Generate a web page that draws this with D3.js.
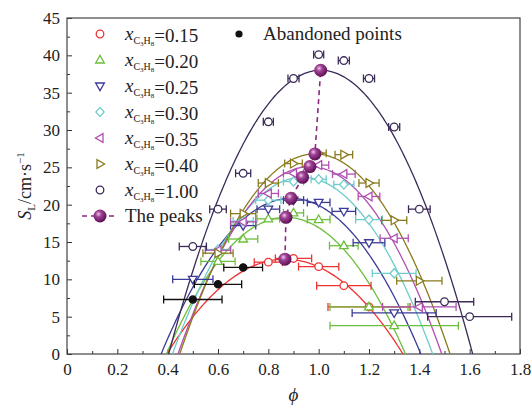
<!DOCTYPE html>
<html><head><meta charset="utf-8">
<script src="https://cdn.jsdelivr.net/npm/d3@7"></script>
<style>body{margin:0;background:#fff}svg{display:block}</style>
</head><body>
<script>
// ---- data ----
const seriesNames = ["0.15","0.20","0.25","0.30","0.35","0.40","1.00"];
const seriesColors = ["#ee3333","#6cbf3a","#3b3b98","#6ecccb","#b14fb1","#8a7b1f","#3c2b58"];
const seriesShapes = ["circle","up","down","diamond","left","right","circle"];

const phi015 = [0.8,0.9,1.0,1.1,1.2];
const s015   = [12.3,12.8,11.7,9.15,6.3];
const e015   = [0.056,0.072,0.08,0.108,0.163];

const phi020 = [0.6,0.7,0.8,0.9,1.0,1.1,1.2,1.3];
const s020   = [12.4,15.4,18.1,18.9,18.0,14.5,6.3,3.8];
const e020   = [0.068,0.058,0.045,0.04,0.045,0.057,0.155,0.255];

const phi025 = [0.5,0.7,0.8,0.9,1.0,1.1,1.2,1.3];
const s025   = [10.0,17.2,19.4,20.6,20.3,19.1,14.9,5.5];
const e025   = [0.08,0.05,0.045,0.04,0.045,0.047,0.063,0.167];

const phi030 = [0.6,0.7,0.8,0.9,1.0,1.1,1.2,1.3];
const s030   = [14.0,17.8,20.6,23.1,23.4,22.7,18.0,10.8];
const e030   = [0.05,0.04,0.05,0.04,0.03,0.04,0.053,0.087];

const phi035 = [0.6,0.7,0.8,0.9,1.0,1.1,1.2,1.3,1.4];
const s035   = [13.9,17.7,21.5,24.2,25.3,24.1,21.1,15.5,6.3];
const e035   = [0.05,0.05,0.04,0.04,0.04,0.045,0.043,0.056,0.146];

const phi040 = [0.6,0.7,0.8,0.9,1.0,1.1,1.2,1.3,1.4];
const s040   = [13.5,18.8,22.9,25.5,26.9,26.7,22.9,17.9,9.8];
const e040   = [0.06,0.05,0.04,0.035,0.03,0.035,0.04,0.05,0.09];

const phi100 = [0.5,0.6,0.7,0.8,0.9,1.0,1.1,1.2,1.3,1.4,1.5,1.6];
const s100   = [14.4,19.4,24.2,31.1,36.9,40.1,39.3,36.9,30.4,19.4,7.0,5.0];
const e100   = [0.054,0.033,0.03,0.02,0.022,0.02,0.022,0.022,0.022,0.043,0.116,0.167];

const phiAband = [0.5,0.6,0.7];
const sAband   = [7.3,9.33,11.6];
const eAband   = [0.116,0.094,0.077];

// quadratic fits: vertex (peak) and right root
const peakPhi = [0.866,0.87,0.89,0.936,0.965,0.985,1.008];
const peakS   = [12.7,18.3,20.85,23.66,25.1,26.8,38.0];
const rootRight = [1.335,1.345,1.406,1.453,1.489,1.522,1.612];

const xTicks = [0,0.2,0.4,0.6,0.8,1.0,1.2,1.4,1.6,1.8];
const yTicks = [0,5,10,15,20,25,30,35,40,45];

const seriesPhi = [phi015,phi020,phi025,phi030,phi035,phi040,phi100];
const seriesS   = [s015,s020,s025,s030,s035,s040,s100];
const seriesE   = [e015,e020,e025,e030,e035,e040,e100];

// ---- chart ----
const FONT = "'Liberation Serif','Times New Roman','DejaVu Serif',serif";
const W=531,H=407, L=67,R=520,T=18,B=354;
const svg=d3.select("body").append("svg").attr("width",W).attr("height",H);
const x=d3.scaleLinear().domain([0,1.8]).range([L,R]);
const y=d3.scaleLinear().domain([0,45]).range([B,T]);

const defs=svg.append("defs");
const g=defs.append("radialGradient").attr("id","sph").attr("cx","38%").attr("cy","35%").attr("r","65%");
g.append("stop").attr("offset","0%").attr("stop-color","#f0c8ea");
g.append("stop").attr("offset","35%").attr("stop-color","#a04496");
g.append("stop").attr("offset","100%").attr("stop-color","#5e0f55");
defs.append("clipPath").attr("id","clip").append("rect").attr("x",L).attr("y",T).attr("width",R-L).attr("height",B-T);

// axes
const fmtX=d=>d===0?"0":d3.format(".1f")(d);
svg.append("g").attr("transform",`translate(0,${B})`)
  .call(d3.axisBottom(x).tickValues(xTicks).tickFormat(fmtX).tickSize(-5).tickPadding(9));
svg.append("g").attr("transform",`translate(0,${B})`)
  .call(d3.axisBottom(x).tickValues(d3.range(0.1,1.8,0.2)).tickFormat("").tickSize(-3));
svg.append("g").attr("transform",`translate(${L},0)`)
  .call(d3.axisLeft(y).tickValues(yTicks).tickSize(-5).tickPadding(7));
svg.append("g").attr("transform",`translate(${L},0)`)
  .call(d3.axisLeft(y).tickValues(d3.range(2.5,45,5)).tickFormat("").tickSize(-3));
svg.selectAll(".domain").remove();
svg.selectAll("g").attr("font-family",null);
svg.selectAll(".tick line").attr("stroke","#333");
svg.selectAll(".tick text").attr("font-family",FONT).attr("font-size","17px").attr("fill","#222");
svg.append("rect").attr("x",L).attr("y",T).attr("width",R-L).attr("height",B-T).attr("fill","none").attr("stroke","#444").attr("stroke-width",1.2);

function txt(sel){return sel.attr("font-family",FONT).attr("fill","#222");}
// axis titles
txt(svg.append("text")).attr("x",(L+R)/2).attr("y",401).attr("text-anchor","middle")
  .attr("font-size","19px").attr("font-style","italic").text("ϕ");
const yt=txt(svg.append("text")).attr("transform","translate(31,186) rotate(-90)").attr("text-anchor","middle").attr("font-size","18px");
yt.append("tspan").attr("font-style","italic").text("S");
yt.append("tspan").attr("dy",4).attr("font-size","11px").text("L");
yt.append("tspan").attr("dy",-4).text("/cm·s");
yt.append("tspan").attr("dy",-7).attr("font-size","11px").text("−1");

const plot=svg.append("g").attr("clip-path","url(#clip)");

// fitted curves
seriesNames.forEach((n,i)=>{
  const hw=rootRight[i]-peakPhi[i], r1=peakPhi[i]-hw;
  const pts=d3.range(0,201).map(k=>{const p=r1+2*hw*k/200; return [p, peakS[i]*(1-((p-peakPhi[i])/hw)**2)];});
  plot.append("path").attr("d",d3.line().x(d=>x(d[0])).y(d=>y(Math.max(d[1],-1)))(pts))
    .attr("fill","none").attr("stroke",seriesColors[i]).attr("stroke-width",1.3);
});

function markerPath(shape,s){
  switch(shape){
    case "up": return `M0,${-s}L${s*0.95},${s*0.65}L${-s*0.95},${s*0.65}Z`;
    case "down": return `M0,${s}L${s*0.95},${-s*0.65}L${-s*0.95},${-s*0.65}Z`;
    case "left": return `M${-s},0L${s*0.65},${-s*0.95}L${s*0.65},${s*0.95}Z`;
    case "right": return `M${s},0L${-s*0.65},${-s*0.95}L${-s*0.65},${s*0.95}Z`;
    case "diamond": return `M0,${-s}L${s*0.9},0L0,${s}L${-s*0.9},0Z`;
  }
}
function drawPoints(ph,ss,ee,color,shape,filled){
  const gg=plot.append("g");
  ph.forEach((p,j)=>{
    const cy=y(ss[j]), x0=x(p-ee[j]), x1=x(p+ee[j]);
    gg.append("line").attr("x1",x0).attr("x2",x1).attr("y1",cy).attr("y2",cy).attr("stroke",color).attr("stroke-width",1.3);
    [x0,x1].forEach(xx=>gg.append("line").attr("x1",xx).attr("x2",xx).attr("y1",cy-4).attr("y2",cy+4).attr("stroke",color).attr("stroke-width",1.3));
  });
  ph.forEach((p,j)=>{
    const cx=x(p), cy=y(ss[j]);
    if(shape==="circle"){
      gg.append("circle").attr("cx",cx).attr("cy",cy).attr("r",filled?3.6:3.8)
        .attr("fill",filled?color:"#fff").attr("stroke",color).attr("stroke-width",1.3);
    } else {
      gg.append("path").attr("d",markerPath(shape,4.6)).attr("transform",`translate(${cx},${cy})`)
        .attr("fill","#fff").attr("stroke",color).attr("stroke-width",1.3);
    }
  });
}
seriesNames.forEach((n,i)=>drawPoints(seriesPhi[i],seriesS[i],seriesE[i],seriesColors[i],seriesShapes[i],false));
drawPoints(phiAband,sAband,eAband,"#111","circle",true);

// peaks
const pk=peakPhi.map((p,i)=>[p,peakS[i]]);
plot.append("path").attr("d",d3.line().x(d=>x(d[0])).y(d=>y(d[1]))(pk))
  .attr("fill","none").attr("stroke","#8b2a80").attr("stroke-width",1.6).attr("stroke-dasharray","5,4");
pk.forEach(d=>plot.append("circle").attr("cx",x(d[0])).attr("cy",y(d[1])).attr("r",6.5).attr("fill","url(#sph)"));

// legend
const lg=svg.append("g");
const rowY=[34,60,86,112,138,164,190];
seriesNames.forEach((n,i)=>{
  const cy=rowY[i];
  if(seriesShapes[i]==="circle") lg.append("circle").attr("cx",100).attr("cy",cy).attr("r",3.8).attr("fill","#fff").attr("stroke",seriesColors[i]).attr("stroke-width",1.3);
  else lg.append("path").attr("d",markerPath(seriesShapes[i],4.6)).attr("transform",`translate(100,${cy})`).attr("fill","#fff").attr("stroke",seriesColors[i]).attr("stroke-width",1.3);
  const t=txt(lg.append("text")).attr("x",125).attr("y",cy+6).attr("font-size","19px");
  t.append("tspan").attr("font-style","italic").text("x");
  t.append("tspan").attr("dy",4).attr("font-size","10px").text("C");
  t.append("tspan").attr("dy",2).attr("font-size","7px").text("3");
  t.append("tspan").attr("dy",-2).attr("font-size","10px").text("H");
  t.append("tspan").attr("dy",2).attr("font-size","7px").text("8");
  t.append("tspan").attr("dy",-4).text("="+n);
});
lg.append("line").attr("x1",82).attr("x2",118).attr("y1",216).attr("y2",216).attr("stroke","#8b2a80").attr("stroke-width",1.6).attr("stroke-dasharray","5,4");
lg.append("circle").attr("cx",100).attr("cy",216).attr("r",6.5).attr("fill","url(#sph)");
txt(lg.append("text")).attr("x",125).attr("y",222).attr("font-size","19px").text("The peaks");
lg.append("circle").attr("cx",239).attr("cy",34).attr("r",3.6).attr("fill","#111");
txt(lg.append("text")).attr("x",263).attr("y",40).attr("font-size","19px").text("Abandoned points");
</script>
</body></html>
